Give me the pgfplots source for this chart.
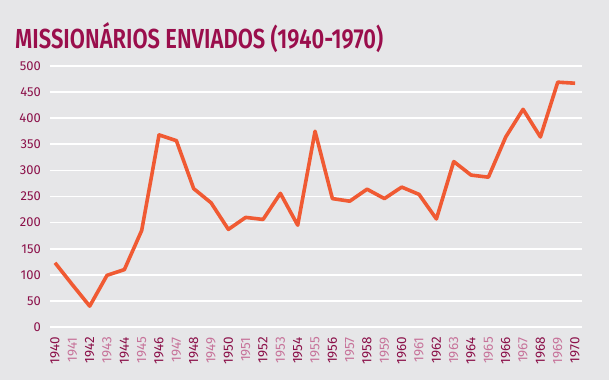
\documentclass[border=0pt]{standalone}
\usepackage{pgfplots}
\pgfplotsset{compat=1.18}
\usepackage{fontspec}
\setmainfont{Fira Sans}
\newfontfamily\firasb{Fira Sans SemiBold}
\definecolor{bg}{HTML}{E6E6E8}
\definecolor{titlecol}{HTML}{9A0E4C}
\definecolor{dk}{HTML}{8B1049}
\definecolor{lt}{HTML}{C7739A}
\definecolor{linecol}{HTML}{F05A33}
\begin{document}
\begin{tikzpicture}[x=1bp,y=1bp]
\fill[bg] (0,0) rectangle (609,380);
\node[anchor=base west, text=titlecol, inner sep=0pt] at (15,332) {\resizebox{368bp}{26bp}{\fontsize{34}{34}\selectfont\firasb MISSIONÁRIOS ENVIADOS (1940-1970)}};
\begin{axis}[
  at={(50bp,53bp)}, anchor=south west,
  width=532bp, height=261bp, scale only axis,
  xmin=1939.71, xmax=1970.4, ymin=0, ymax=500,
  axis line style={draw=none},
  major tick length=0pt,
  ytick={0,50,...,500},
  ymajorgrids, grid style={white, line width=1.6bp},
  xtick={1940,...,1970},
  xticklabels={\textcolor{dk}{1940},\textcolor{lt}{1941},\textcolor{dk}{1942},\textcolor{lt}{1943},\textcolor{dk}{1944},\textcolor{lt}{1945},\textcolor{dk}{1946},\textcolor{lt}{1947},\textcolor{dk}{1948},\textcolor{lt}{1949},\textcolor{dk}{1950},\textcolor{lt}{1951},\textcolor{dk}{1952},\textcolor{lt}{1953},\textcolor{dk}{1954},\textcolor{lt}{1955},\textcolor{dk}{1956},\textcolor{lt}{1957},\textcolor{dk}{1958},\textcolor{lt}{1959},\textcolor{dk}{1960},\textcolor{lt}{1961},\textcolor{dk}{1962},\textcolor{lt}{1963},\textcolor{dk}{1964},\textcolor{lt}{1965},\textcolor{dk}{1966},\textcolor{lt}{1967},\textcolor{dk}{1968},\textcolor{lt}{1969},\textcolor{dk}{1970}},
  xticklabel style={rotate=90, anchor=east, inner sep=0pt, xshift=-10bp, font=\fontsize{13.5}{13.5}\selectfont},
  yticklabel style={anchor=east, inner sep=0pt, xshift=-9bp, text=dk, font=\fontsize{13}{13}\selectfont},
  /pgf/number format/assume math mode=true,
  clip=false,
]
\addplot[linecol, line width=3.6bp, line join=round] coordinates {
(1940,123) (1941,81) (1942,40) (1943,99) (1944,110) (1945,185) (1946,368) (1947,357)
(1948,265) (1949,238) (1950,187) (1951,210) (1952,206) (1953,256) (1954,195) (1955,375)
(1956,246) (1957,241) (1958,264) (1959,246) (1960,268) (1961,254) (1962,207) (1963,317)
(1964,291) (1965,287) (1966,364) (1967,417) (1968,364) (1969,469) (1970,467)
};
\end{axis}
\end{tikzpicture}
\end{document}
